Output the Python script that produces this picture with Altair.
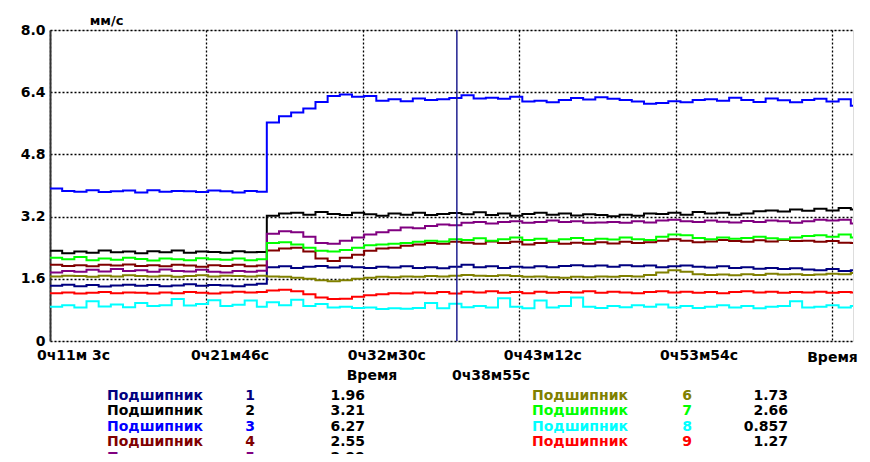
import altair as alt
import pandas as pd

# sample times in seconds (x axis)
times = [663, 713, 763, 813, 863, 913, 963, 1013, 1063, 1113, 1163, 1213, 1263, 1313, 1363, 1413, 1463, 1513,
         1554, 1604, 1654, 1704, 1754, 1804, 1854, 1904, 1954, 2004, 2054, 2104, 2154, 2204, 2254, 2304, 2354,
         2404, 2454, 2504, 2554, 2604, 2654, 2704, 2754, 2804, 2854, 2904, 2954, 3004, 3054, 3104, 3154, 3204,
         3254, 3304, 3354, 3404, 3454, 3504, 3554, 3604, 3654, 3704, 3754, 3804, 3854, 3904, 3954, 3963]

s1 = [1.42, 1.45, 1.41, 1.44, 1.40, 1.43, 1.45, 1.42, 1.44, 1.41, 1.43, 1.46, 1.42, 1.44, 1.43, 1.41, 1.45, 1.47,
      1.90, 1.92, 1.88, 1.91, 1.93, 1.89, 1.92, 1.90, 1.88, 1.91, 1.89, 1.92, 1.88, 1.90, 1.87, 1.91, 1.96,
      1.90, 1.92, 1.88, 1.91, 1.89, 1.92, 1.90, 1.93, 1.95, 1.92, 1.94, 1.91, 1.95, 1.92, 1.94, 1.90, 1.92,
      1.94, 1.91, 1.89, 1.92, 1.88, 1.90, 1.86, 1.88, 1.85, 1.87, 1.84, 1.82, 1.85, 1.80, 1.82, 1.82]
s2 = [2.32, 2.26, 2.30, 2.27, 2.33, 2.28, 2.30, 2.26, 2.31, 2.28, 2.33, 2.27, 2.30, 2.29, 2.27, 2.31, 2.28, 2.29,
      3.22, 3.28, 3.30, 3.25, 3.32, 3.27, 3.24, 3.30, 3.26, 3.22, 3.28, 3.25, 3.30, 3.24, 3.27, 3.29, 3.26,
      3.31, 3.24, 3.28, 3.22, 3.27, 3.30, 3.25, 3.28, 3.23, 3.26, 3.24, 3.21, 3.25, 3.22, 3.28, 3.27, 3.30,
      3.25, 3.32, 3.28, 3.30, 3.25, 3.28, 3.34, 3.36, 3.33, 3.38, 3.35, 3.40, 3.36, 3.42, 3.38, 3.38]
s3 = [3.92, 3.86, 3.84, 3.88, 3.83, 3.85, 3.87, 3.82, 3.88, 3.84, 3.86, 3.85, 3.83, 3.87, 3.85, 3.82, 3.86, 3.84,
      5.62, 5.78, 5.88, 5.98, 6.15, 6.30, 6.34, 6.28, 6.30, 6.18, 6.22, 6.17, 6.24, 6.20, 6.22, 6.25, 6.32,
      6.24, 6.26, 6.23, 6.28, 6.16, 6.18, 6.14, 6.20, 6.25, 6.21, 6.27, 6.23, 6.20, 6.16, 6.10, 6.12, 6.17,
      6.14, 6.20, 6.22, 6.18, 6.26, 6.20, 6.15, 6.24, 6.19, 6.14, 6.20, 6.23, 6.16, 6.22, 6.05, 6.05]
s4 = [1.96, 1.93, 1.95, 1.92, 1.96, 1.94, 1.97, 1.93, 1.95, 1.92, 1.96, 1.94, 1.91, 1.95, 1.93, 1.96, 1.92, 1.94,
      2.33, 2.38, 2.40, 2.30, 2.12, 2.06, 2.14, 2.22, 2.32, 2.38, 2.40, 2.45, 2.48, 2.52, 2.50, 2.55, 2.53,
      2.50, 2.56, 2.52, 2.55, 2.48, 2.52, 2.55, 2.50, 2.53, 2.50, 2.54, 2.51, 2.55, 2.52, 2.54, 2.58, 2.62,
      2.58, 2.54, 2.56, 2.60, 2.57, 2.55, 2.59, 2.56, 2.60, 2.57, 2.58, 2.55, 2.57, 2.53, 2.52, 2.52]
s5 = [1.76, 1.80, 1.78, 1.83, 1.79, 1.85, 1.80, 1.82, 1.78, 1.84, 1.80, 1.79, 1.83, 1.78, 1.76, 1.80, 1.78, 1.81,
      2.76, 2.82, 2.80, 2.68, 2.52, 2.50, 2.58, 2.66, 2.74, 2.80, 2.85, 2.92, 2.90, 2.96, 3.00, 2.98, 3.04,
      3.06, 3.02, 3.06, 3.08, 3.04, 3.06, 3.10, 3.06, 3.08, 3.04, 3.05, 3.06, 3.04, 3.08, 3.05, 3.10, 3.12,
      3.08, 3.06, 3.10, 3.07, 3.05, 3.09, 3.06, 3.10, 3.08, 3.04, 3.08, 3.12, 3.10, 3.12, 3.02, 3.02]
s6 = [1.66, 1.68, 1.67, 1.65, 1.68, 1.66, 1.69, 1.67, 1.66, 1.68, 1.65, 1.67, 1.69, 1.66, 1.68, 1.67, 1.66, 1.68,
      1.66, 1.65, 1.63, 1.60, 1.56, 1.54, 1.56, 1.60, 1.63, 1.65, 1.64, 1.66, 1.65, 1.67, 1.66, 1.68, 1.70,
      1.68, 1.67, 1.69, 1.67, 1.65, 1.66, 1.64, 1.63, 1.65, 1.64, 1.66, 1.65, 1.67, 1.66, 1.70, 1.76, 1.82,
      1.78, 1.72, 1.70, 1.71, 1.69, 1.72, 1.70, 1.73, 1.71, 1.72, 1.70, 1.71, 1.73, 1.72, 1.75, 1.75]
s7 = [2.14, 2.10, 2.16, 2.08, 2.12, 2.09, 2.14, 2.11, 2.07, 2.12, 2.10, 2.08, 2.13, 2.10, 2.09, 2.12, 2.08, 2.10,
      2.52, 2.54, 2.48, 2.40, 2.32, 2.30, 2.34, 2.40, 2.46, 2.48, 2.50, 2.52, 2.55, 2.58, 2.56, 2.62, 2.60,
      2.64, 2.58, 2.62, 2.66, 2.60, 2.63, 2.58, 2.62, 2.65, 2.60, 2.63, 2.61, 2.66, 2.62, 2.60, 2.68, 2.74,
      2.72, 2.65, 2.62, 2.66, 2.63, 2.65, 2.68, 2.64, 2.62, 2.66, 2.70, 2.72, 2.68, 2.74, 2.66, 2.66]
s8 = [0.88, 0.92, 0.86, 1.02, 0.89, 0.94, 0.87, 0.98, 0.90, 0.92, 1.08, 0.91, 0.95, 1.05, 0.90, 0.93, 1.04, 0.88,
      1.00, 0.92, 1.06, 0.90, 0.95, 0.86, 0.88, 0.85, 0.86, 0.82, 0.84, 0.83, 0.85, 0.98, 0.84, 0.96, 0.87,
      0.90, 0.86, 1.10, 0.88, 0.84, 1.04, 0.86, 0.90, 1.12, 0.88, 0.85, 0.90, 0.87, 0.92, 0.88, 0.94, 0.86,
      0.90, 0.85, 0.88, 0.92, 0.86, 0.90, 0.84, 0.88, 0.90, 1.02, 0.86, 0.88, 0.92, 0.86, 0.90, 0.90]
s9 = [1.23, 1.25, 1.22, 1.24, 1.26, 1.23, 1.25, 1.24, 1.22, 1.25, 1.23, 1.26, 1.24, 1.22, 1.25, 1.27, 1.25, 1.26,
      1.30, 1.32, 1.28, 1.20, 1.12, 1.08, 1.09, 1.14, 1.18, 1.20, 1.23, 1.22, 1.25, 1.23, 1.26, 1.22, 1.27,
      1.25, 1.28, 1.24, 1.26, 1.23, 1.27, 1.24, 1.26, 1.25, 1.28, 1.24, 1.27, 1.25, 1.23, 1.26, 1.28, 1.25,
      1.27, 1.24, 1.26, 1.23, 1.26, 1.28, 1.25, 1.27, 1.24, 1.26, 1.25, 1.27, 1.24, 1.26, 1.25, 1.25]

series_ids = ["1", "2", "3", "4", "5", "6", "7", "8", "9"]
series_values = [s1, s2, s3, s4, s5, s6, s7, s8, s9]
series_colors = ["#000080", "#000000", "#0000FF", "#800000", "#800080",
                 "#808000", "#00FF00", "#00FFFF", "#FF0000"]
legend_name = "Подшипник"
legend_readings = ["1.96", "3.21", "6.27", "2.55", "2.99", "1.73", "2.66", "0.857", "1.27"]

y_ticks = [0, 1.6, 3.2, 4.8, 6.4, 8.0]
x_ticks = [663, 1306, 1950, 2592, 3234, 3876]
x_tick_labels = ["0ч11м 3с", "0ч21м46с", "0ч32м30с", "0ч43м12с", "0ч53м54с", ""]
x_domain = [663, 3963]
cursor_time = [2335]
cursor_label = "0ч38м55с"
unit_label = "мм/с"
time_label = "Время"

FONT = "DejaVu Sans"

rows = []
for sid, vals in zip(series_ids, series_values):
    for t, v in zip(times, vals):
        rows.append({"t": t, "v": v, "series": sid})
df = pd.DataFrame(rows)

leg = pd.DataFrame({"series": series_ids, "name": [legend_name] * 9,
                    "reading": legend_readings, "idx": list(range(9))})

x_label_expr = " : ".join(f"datum.value == {t} ? '{lab}'" for t, lab in zip(x_ticks, x_tick_labels)) + " : ''"

color_scale = alt.Scale(domain=series_ids, range=series_colors)

lines = alt.Chart(df).mark_line(interpolate="step-after", strokeWidth=2).encode(
    x=alt.X("t:Q", scale=alt.Scale(domain=x_domain, nice=False, zero=False),
            axis=alt.Axis(values=x_ticks, labelExpr=x_label_expr, ticks=False, domain=False,
                          grid=True, gridDash=[2, 2], gridColor="#000", gridWidth=1.3, gridOpacity=1,
                          labelFont=FONT, labelFontWeight="bold", labelFontSize=14, labelColor="#000",
                          labelAlign="center", labelOffset=23, labelPadding=7, labelFlush=False,
                          labelOverlap=False, labelBound=False,
                          title=time_label, titleFont=FONT, titleFontWeight="bold", titleFontSize=14,
                          titleX=782, titleY=16, titleAlign="center", titleBaseline="middle")),
    y=alt.Y("v:Q", scale=alt.Scale(domain=[0, 8], nice=False, zero=True),
            axis=alt.Axis(values=y_ticks,
                          labelExpr="datum.value == 0 ? '0' : format(datum.value, '.1f')",
                          ticks=False, domain=True, domainColor="#333", domainWidth=2,
                          grid=True, gridDash=[2, 2], gridColor="#000", gridWidth=1.3, gridOpacity=1,
                          labelFont=FONT, labelFontWeight="bold", labelFontSize=14, labelColor="#000",
                          labelPadding=5, labelFlush=False, labelOverlap=False, labelBound=False,
                          title=unit_label, titleFont=FONT, titleFontWeight="bold", titleFontSize=13,
                          titleAngle=0, titleX=56, titleY=-10, titleAlign="center",
                          titleBaseline="middle")),
    color=alt.Color("series:N", scale=color_scale, legend=None),
)

cursor = alt.Chart(pd.DataFrame({"t": cursor_time})).mark_rule(color="#202090", strokeWidth=1.5).encode(
    x="t:Q"
)

base_leg = alt.Chart(leg).transform_calculate(
    col="datum.idx < 5 ? 0 : 1",
    row="datum.idx < 5 ? datum.idx : datum.idx - 5",
).transform_calculate(
    lx="datum.col == 0 ? 57 : 482",
    nx="datum.col == 0 ? 200 : 637",
    vx="datum.col == 0 ? 315 : 738",
    ly="365.5 + datum.row * 15.5",
)

txt = dict(font=FONT, fontWeight="bold", fontSize=14, baseline="middle")

leg_names = base_leg.mark_text(align="left", **txt).encode(
    x=alt.X("lx:Q", scale=None), y=alt.Y("ly:Q", scale=None),
    text="name:N", color=alt.Color("series:N", scale=color_scale, legend=None))
leg_nums = base_leg.mark_text(align="center", **txt).encode(
    x=alt.X("nx:Q", scale=None), y=alt.Y("ly:Q", scale=None),
    text="series:N", color=alt.Color("series:N", scale=color_scale, legend=None))
leg_vals = base_leg.mark_text(align="right", color="#000", **txt).encode(
    x=alt.X("vx:Q", scale=None), y=alt.Y("ly:Q", scale=None),
    text="reading:N")

hdr = pd.DataFrame({"a": [time_label], "b": [cursor_label]})
hdr1 = alt.Chart(hdr).mark_text(align="center", color="#000", **txt).encode(
    x=alt.value(322), y=alt.value(345.5), text="a:N")
hdr2 = alt.Chart(hdr).mark_text(align="left", color="#000", **txt).encode(
    x=alt.value(402), y=alt.value(345.5), text="b:N")

chart = alt.layer(lines, cursor, leg_names, leg_nums, leg_vals, hdr1, hdr2).properties(
    width=803, height=311,
    autosize=alt.AutoSizeParams(type="none"),
    padding={"left": 42, "top": 22, "right": 9, "bottom": 113},
).configure_view(stroke="#444", strokeWidth=1.5).configure(background="white")

chart.save("out.html", embed_options={"renderer": "svg", "actions": False})
